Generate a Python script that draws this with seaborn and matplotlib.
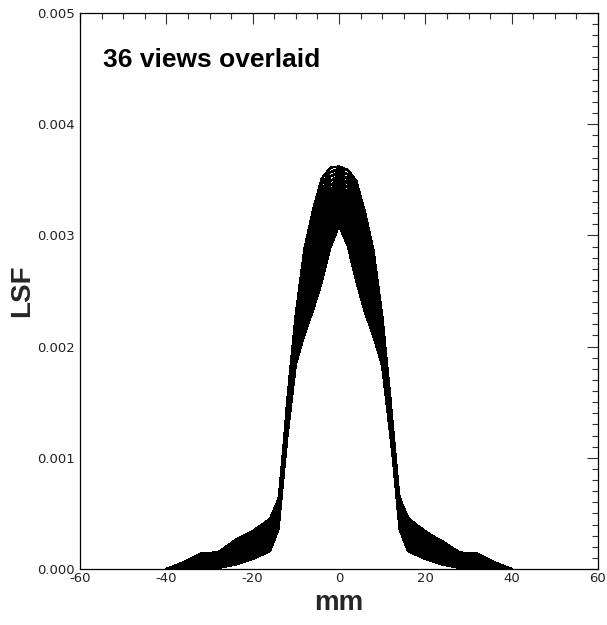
import numpy as np
import pandas as pd
import matplotlib
matplotlib.use("Agg")
import matplotlib.pyplot as plt
import seaborn as sns
from matplotlib.ticker import MultipleLocator, FormatStrFormatter

# Sample positions across the slit profile (mm)
position_mm = [-40, -36, -32, -28, -24, -20, -16, -14, -12, -10, -8, -6, -4, -2, 0,
               2, 4, 6, 8, 10, 12, 14, 16, 20, 24, 28, 32, 36, 40]

# LSF values per view, stored in units of 1e-5
LSF_UNIT = 1e-5
view_01 = [0, 0, 1, 2, 5, 10, 17, 37, 118, 184, 211, 233, 258, 289, 309, 291, 259, 231, 209, 183, 117, 44, 25, 16, 10, 5, 4, 2, 0]
view_02 = [0, 2, 7, 8, 14, 20, 29, 48, 120, 186, 213, 236, 262, 293, 310, 291, 260, 234, 211, 184, 118, 62, 43, 31, 23, 13, 13, 5, 0]
view_03 = [0, 5, 12, 13, 23, 31, 42, 60, 119, 185, 213, 236, 262, 293, 312, 295, 264, 238, 215, 187, 121, 49, 30, 20, 14, 8, 6, 3, 0]
view_04 = [0, 1, 4, 5, 10, 16, 24, 44, 122, 189, 218, 241, 267, 297, 314, 295, 265, 239, 216, 187, 120, 37, 17, 10, 5, 2, 0, 0, 0]
view_05 = [0, 4, 10, 11, 20, 27, 37, 55, 121, 188, 218, 241, 268, 297, 315, 299, 270, 243, 220, 190, 123, 54, 35, 25, 18, 10, 9, 4, 0]
view_06 = [0, 0, 2, 3, 7, 12, 19, 39, 124, 191, 222, 246, 272, 301, 317, 299, 270, 244, 220, 189, 122, 42, 22, 14, 9, 4, 3, 1, 0]
view_07 = [0, 3, 8, 9, 16, 23, 32, 51, 123, 191, 222, 246, 273, 301, 318, 303, 275, 248, 224, 193, 125, 59, 41, 29, 21, 12, 11, 5, 0]
view_08 = [0, 5, 13, 14, 25, 33, 44, 62, 125, 194, 226, 251, 277, 305, 320, 303, 275, 249, 224, 192, 123, 47, 28, 18, 12, 6, 5, 2, 0]
view_09 = [0, 2, 5, 6, 12, 18, 27, 46, 124, 193, 227, 252, 278, 305, 321, 307, 280, 254, 229, 195, 126, 64, 46, 33, 25, 14, 14, 6, 0]
view_10 = [0, 4, 11, 12, 21, 29, 39, 58, 127, 196, 231, 256, 283, 309, 323, 307, 281, 254, 229, 194, 125, 52, 33, 23, 16, 9, 8, 3, 0]
view_11 = [0, 1, 3, 4, 9, 14, 22, 42, 126, 196, 231, 257, 283, 309, 324, 311, 285, 259, 233, 198, 128, 39, 20, 12, 7, 3, 1, 1, 0]
view_12 = [0, 3, 9, 10, 18, 25, 34, 53, 129, 199, 235, 261, 288, 313, 326, 311, 286, 259, 233, 197, 127, 57, 38, 27, 20, 11, 10, 4, 0]
view_13 = [0, 1, 2, 3, 6, 11, 18, 38, 128, 198, 235, 262, 289, 313, 327, 315, 291, 264, 237, 200, 130, 45, 26, 17, 11, 6, 5, 2, 0]
view_14 = [0, 3, 8, 9, 15, 21, 30, 49, 131, 201, 240, 266, 293, 317, 329, 315, 291, 264, 238, 199, 129, 63, 44, 32, 24, 14, 14, 6, 0]
view_15 = [0, 6, 13, 14, 24, 32, 43, 61, 130, 201, 240, 267, 294, 317, 330, 319, 296, 269, 242, 203, 132, 50, 31, 21, 15, 9, 7, 3, 0]
view_16 = [0, 2, 5, 6, 11, 17, 25, 45, 133, 204, 244, 272, 298, 321, 332, 319, 296, 270, 242, 202, 131, 38, 18, 11, 6, 3, 1, 0, 0]
view_17 = [0, 5, 11, 12, 21, 28, 38, 56, 132, 203, 244, 272, 299, 321, 333, 323, 301, 274, 246, 205, 134, 55, 36, 26, 19, 11, 10, 4, 0]
view_18 = [0, 1, 3, 4, 8, 13, 20, 40, 135, 206, 248, 277, 304, 325, 335, 323, 302, 275, 246, 204, 133, 43, 23, 15, 10, 5, 4, 1, 0]
view_19 = [0, 4, 9, 10, 17, 24, 33, 52, 133, 206, 249, 277, 304, 325, 336, 327, 306, 279, 251, 208, 135, 60, 42, 30, 22, 13, 12, 5, 0]
view_20 = [0, 6, 14, 15, 26, 34, 45, 63, 136, 209, 253, 282, 309, 329, 338, 327, 307, 280, 251, 207, 134, 48, 29, 19, 13, 7, 6, 2, 0]
view_21 = [0, 3, 6, 7, 13, 19, 28, 47, 135, 208, 253, 282, 310, 329, 339, 331, 312, 284, 255, 210, 137, 65, 45, 34, 24, 15, 13, 6, 0]
view_22 = [0, 5, 12, 13, 22, 30, 40, 59, 138, 211, 257, 287, 314, 333, 341, 331, 312, 285, 255, 209, 136, 53, 34, 24, 17, 10, 9, 3, 0]
view_23 = [0, 2, 4, 5, 10, 15, 23, 43, 137, 211, 257, 288, 315, 333, 342, 335, 317, 290, 259, 213, 139, 40, 21, 13, 8, 4, 2, 1, 0]
view_24 = [0, 4, 10, 11, 19, 26, 35, 54, 140, 214, 262, 292, 319, 337, 344, 335, 317, 290, 260, 212, 138, 58, 39, 28, 21, 12, 11, 4, 0]
view_25 = [0, 0, 1, 1, 4, 9, 16, 36, 139, 213, 262, 293, 320, 337, 345, 339, 322, 295, 264, 215, 141, 43, 24, 15, 9, 4, 3, 1, 0]
view_26 = [0, 1, 6, 7, 13, 19, 28, 47, 142, 216, 266, 297, 325, 341, 347, 339, 323, 295, 264, 214, 140, 61, 42, 30, 22, 12, 12, 5, 0]
view_27 = [0, 4, 11, 12, 22, 30, 41, 59, 141, 216, 266, 298, 325, 341, 348, 343, 327, 300, 268, 218, 143, 48, 29, 19, 13, 7, 5, 2, 0]
view_28 = [0, 0, 3, 4, 9, 15, 23, 43, 144, 219, 270, 302, 330, 345, 350, 343, 328, 300, 268, 217, 142, 36, 16, 9, 4, 1, 0, 0, 0]
view_29 = [0, 3, 9, 10, 19, 26, 36, 54, 143, 218, 271, 303, 331, 345, 351, 347, 333, 305, 273, 220, 145, 53, 34, 24, 17, 9, 8, 3, 0]
view_30 = [0, 0, 1, 2, 6, 11, 18, 38, 146, 222, 275, 308, 335, 349, 353, 347, 333, 306, 273, 220, 144, 41, 21, 13, 8, 3, 2, 1, 0]
view_31 = [0, 2, 7, 8, 15, 22, 31, 50, 144, 221, 275, 308, 336, 349, 354, 351, 338, 310, 277, 223, 146, 58, 40, 28, 20, 11, 10, 4, 0]
view_32 = [0, 4, 12, 13, 24, 32, 43, 61, 147, 224, 279, 313, 341, 353, 356, 351, 339, 311, 277, 222, 145, 46, 27, 17, 11, 5, 4, 2, 0]
view_33 = [0, 1, 4, 5, 11, 17, 26, 45, 146, 223, 279, 313, 341, 353, 357, 355, 343, 315, 281, 225, 148, 63, 45, 32, 24, 13, 13, 6, 0]
view_34 = [0, 3, 10, 11, 20, 28, 38, 57, 149, 226, 284, 318, 346, 357, 359, 355, 344, 316, 282, 224, 147, 51, 32, 22, 15, 8, 7, 3, 0]
view_35 = [0, 0, 2, 3, 8, 13, 21, 41, 148, 226, 284, 318, 346, 357, 360, 359, 348, 320, 286, 228, 150, 38, 19, 11, 6, 2, 1, 0, 0]
view_36 = [0, 2, 8, 9, 17, 24, 33, 52, 151, 229, 288, 323, 351, 361, 362, 359, 349, 321, 286, 227, 149, 56, 37, 26, 19, 10, 9, 4, 0]

views = [view_01, view_02, view_03, view_04, view_05, view_06, view_07, view_08, view_09,
         view_10, view_11, view_12, view_13, view_14, view_15, view_16, view_17, view_18,
         view_19, view_20, view_21, view_22, view_23, view_24, view_25, view_26, view_27,
         view_28, view_29, view_30, view_31, view_32, view_33, view_34, view_35, view_36]

title_text = "36 views overlaid"
x_label = "mm"
y_label = "LSF"

# Long-form table: one row per (view, position)
frames = []
for i, vals in enumerate(views, start=1):
    frames.append(pd.DataFrame({"view": i, "mm": position_mm,
                                "lsf": np.asarray(vals, dtype=float) * LSF_UNIT}))
df = pd.concat(frames, ignore_index=True)

sns.set_theme(style="white")
plt.rcParams["font.family"] = ["DejaVu Sans"]

W, H = 607, 625
fig = plt.figure(figsize=(W / 100, H / 100), dpi=100)
fig.patch.set_facecolor("white")
ax = fig.add_axes([80 / W, 56 / H, 518 / W, 556 / H])
ax.set_facecolor("white")

# Crisp, un-smoothed black traces, one per view
sns.lineplot(data=df, x="mm", y="lsf", units="view", estimator=None,
             color="black", linewidth=1.0, antialiased=False, legend=False, ax=ax)

ax.set_xlim(-60, 60)
ax.set_ylim(0, 0.005)

ax.xaxis.set_major_locator(MultipleLocator(20))
ax.xaxis.set_minor_locator(MultipleLocator(5))
ax.yaxis.set_major_locator(MultipleLocator(0.001))
ax.yaxis.set_minor_locator(MultipleLocator(0.0001))
ax.yaxis.set_major_formatter(FormatStrFormatter("%.3f"))
ax.xaxis.set_major_formatter(FormatStrFormatter("%d"))

ax.tick_params(which="both", direction="in", top=True, right=True,
               color="#333333", width=0.8, labelsize=9.5, labelcolor="#222222")
ax.tick_params(which="major", length=8)
ax.tick_params(which="minor", length=4.3)
ax.tick_params(axis="y", which="major", pad=3.6)
ax.tick_params(axis="x", which="major", pad=2.5)

for side in ("left", "right", "top", "bottom"):
    ax.spines[side].set_visible(True)
    ax.spines[side].set_color("black")
    ax.spines[side].set_linewidth(0.9)

label_font = dict(family=["Liberation Sans", "DejaVu Sans"], weight="bold", size=20)
ax.set_xlabel(x_label, fontdict=label_font)
ax.set_ylabel(y_label, fontdict=label_font)
ax.xaxis.set_label_coords(0.5, -0.038)
ax.yaxis.set_label_coords(-0.087, 0.5)

ax.text(0.044, 0.903, title_text, transform=ax.transAxes, ha="left", va="baseline",
        fontsize=19, fontweight="bold", family=["Liberation Sans", "DejaVu Sans"],
        color="black")

fig.savefig("out.png", dpi=100, facecolor="white")
